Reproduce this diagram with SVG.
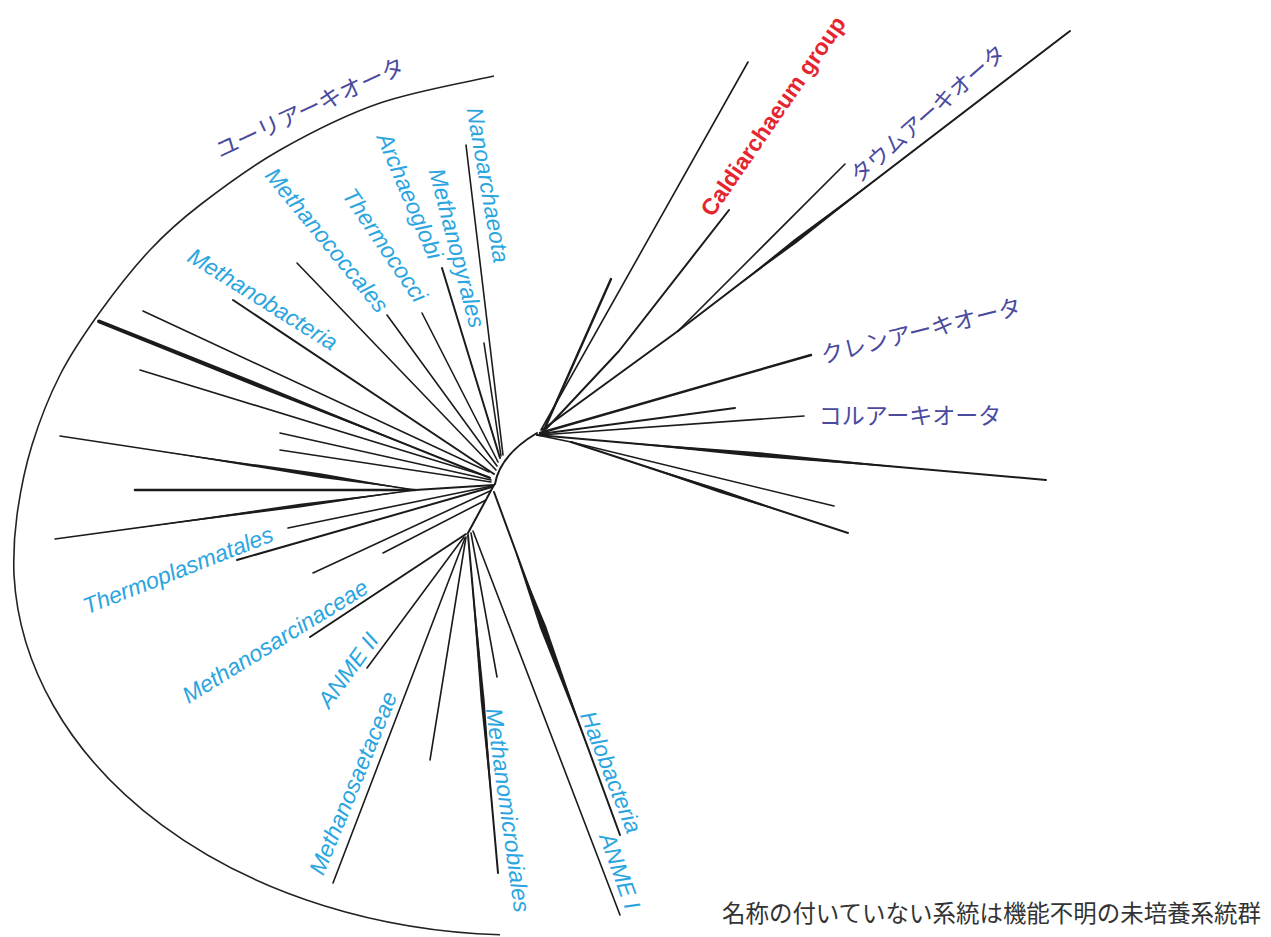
<svg xmlns="http://www.w3.org/2000/svg" width="1271" height="937" viewBox="0 0 1271 937">
<style>
.br{stroke:#1b1b1b;stroke-width:1.6;fill:none;stroke-linecap:round;stroke-linejoin:round}
.th{stroke-width:2.4}
.md{stroke-width:2}
.wd{fill:#1b1b1b;stroke:none}
.arc{stroke:#222;stroke-width:1.6;fill:none}
.lb{font-family:"Liberation Sans",Arial,sans-serif;font-style:italic;font-size:23px;fill:#2aa5e0;text-anchor:middle}
.jp{font-family:"Noto Sans CJK JP",sans-serif;font-size:23px;fill:#4a4a9e;text-anchor:middle}
.cg{font-family:"Liberation Sans",Arial,sans-serif;font-weight:bold;font-size:23px;fill:#e52530;text-anchor:middle}
.note{font-family:"Noto Sans CJK JP",sans-serif;font-size:23.5px;fill:#333}
</style>
<rect width="1271" height="937" fill="#fff"/>

<g id="euryarchaeota-arc">
<path class="arc" d="M494,76 C475,80.5 415.7,90.7 380,103 C344.3,115.3 310,133 280,150 C250,167 221.7,188.3 200,205 C178.3,221.7 166.7,232.2 150,250 C133.3,267.8 115,291.2 100,312 C85,332.8 71.3,352.8 60,375 C48.7,397.2 39.2,421.7 32,445 C24.8,468.3 20,493.3 17,515 C14,536.7 13.2,554.2 14,575 A507,375 0 0 0 500,934.7"/>
</g>

<g id="connectors">
<!-- central links -->
<path class="br md" d="M495,484 Q500,455 537,433"/>
<line class="br md" x1="494" y1="485" x2="468" y2="533"/>
<line class="br md" x1="415" y1="490" x2="494" y2="485"/>
<line class="br" x1="537" y1="435" x2="571" y2="442"/>
<!-- upper euryarchaeota -->
<line class="br" x1="466" y1="145" x2="503" y2="455"/>
<line class="br" x1="484" y1="343" x2="501" y2="456"/>
<line class="br md" x1="442" y1="268" x2="500" y2="458"/>
<line class="br" x1="422" y1="313" x2="498" y2="462"/>
<line class="br" x1="387" y1="315" x2="497" y2="466"/>
<line class="br" x1="297" y1="263" x2="496" y2="470"/>
<line class="br md" x1="233" y1="300" x2="494" y2="474"/>
<!-- left -->
<line class="br md" x1="98" y1="321" x2="490" y2="478"/>
<polygon class="wd" points="97.3,322.7 259.2,388 450,462 260.8,383.9 98.7,319.3"/>
<line class="br" x1="143" y1="311" x2="489" y2="472"/>
<line class="br" x1="140" y1="370" x2="489" y2="477"/>
<line class="br" x1="60" y1="436" x2="415" y2="490"/>
<polygon class="wd" points="150,449.7 319.7,477.7 415,490 320.3,473.3"/>
<line class="br" x1="280" y1="433" x2="491" y2="480"/>
<line class="br" x1="280" y1="450" x2="491" y2="482"/>
<line class="br" style="stroke-width:2.6" x1="135" y1="490" x2="415" y2="490"/>
<line class="br" x1="55" y1="539" x2="415" y2="490"/>
<polygon class="wd" points="120,530.2 300.2,507.4 415,490 299.8,503.8"/>
<line class="br" x1="288" y1="528" x2="492" y2="486"/>
<line class="br md" x1="237" y1="560" x2="492" y2="487"/>
<line class="br" x1="313" y1="573" x2="490" y2="491"/>
<line class="br" x1="383" y1="553" x2="486" y2="500"/>
<!-- lower -->
<line class="br md" x1="310" y1="637" x2="466" y2="534"/>
<line class="br" x1="367" y1="668" x2="464" y2="537"/>
<line class="br" x1="333" y1="883" x2="465" y2="538"/>
<line class="br" x1="430" y1="760" x2="466" y2="537"/>
<line class="br md" x1="498" y1="873" x2="468" y2="535"/>
<polygon class="wd" points="469.3,550 480.6,700.2 494.2,830 484.6,699.8"/>
<line class="br" x1="497" y1="677" x2="471" y2="533"/>
<line class="br" x1="620" y1="915" x2="473" y2="531"/>
<line class="br md" x1="620" y1="835" x2="494" y2="492"/>
<polygon class="wd" points="515.2,552 539.9,628.1 590.4,755 546.1,625.9"/>
<!-- right upper -->
<line class="br" x1="748" y1="62" x2="541" y2="430"/>
<line class="br th" x1="611" y1="279" x2="544" y2="430"/>
<polyline class="br md" points="729,210 619,351 546,429"/>
<line class="br md" x1="542" y1="430" x2="678" y2="331"/>
<line class="br" x1="678" y1="331" x2="845" y2="164"/>
<line class="br md" x1="678" y1="331" x2="1070" y2="31"/>
<polygon class="wd" points="725,295 796.9,242.7 893.6,166 794.3,239.3"/>
<!-- right lower -->
<line class="br th" x1="811" y1="355" x2="540" y2="433"/>
<line class="br md" x1="735" y1="408" x2="540" y2="434"/>
<line class="br" x1="804" y1="416" x2="540" y2="435"/>
<line class="br md" x1="537" y1="435" x2="1046" y2="480"/>
<polygon class="wd" points="600,440.6 760,452.2 930,469.7 760,457.2"/>
<line class="br" x1="571" y1="442" x2="834" y2="506"/>
<line class="br md" x1="571" y1="442" x2="848" y2="533"/>
<polygon class="wd" points="610,454.8 719.4,492.7 810,520.5 720.6,489.3"/>
</g>

<g id="label-euryarchaeota"><text class="jp" transform="translate(310,108) rotate(-25)" dy="0.35em">ユーリアーキオータ</text></g>
<g id="label-nanoarchaeota"><text class="lb" transform="translate(488,185) rotate(80)" dy="0.35em">Nanoarchaeota</text></g>
<g id="label-methanopyrales"><text class="lb" transform="translate(457,248) rotate(75.4)" dy="0.35em">Methanopyrales</text></g>
<g id="label-archaeoglobi"><text class="lb" transform="translate(410,196) rotate(67)" dy="0.35em">Archaeoglobi</text></g>
<g id="label-thermococci"><text class="lb" transform="translate(385,245) rotate(56)" dy="0.35em">Thermococci</text></g>
<g id="label-methanococcales"><text class="lb" transform="translate(327,240) rotate(50.6)" dy="0.35em">Methanococcales</text></g>
<g id="label-methanobacteria"><text class="lb" transform="translate(263,299) rotate(32)" dy="0.35em">Methanobacteria</text></g>
<g id="label-thermoplasmatales"><text class="lb" transform="translate(178,570) rotate(-21.5)" dy="0.35em">Thermoplasmatales</text></g>
<g id="label-methanosarcinaceae"><text class="lb" transform="translate(275,641) rotate(-31.7)" dy="0.35em">Methanosarcinaceae</text></g>
<g id="label-anme2"><text class="lb" transform="translate(348,670) rotate(-54)" dy="0.35em">ANME II</text></g>
<g id="label-methanosaetaceae"><text class="lb" transform="translate(353,783) rotate(-67.6)" dy="0.35em">Methanosaetaceae</text></g>
<g id="label-methanomicrobiales"><text class="lb" transform="translate(508,810) rotate(82)" dy="0.35em">Methanomicrobiales</text></g>
<g id="label-halobacteria"><text class="lb" transform="translate(611,772) rotate(68.3)" dy="0.35em">Halobacteria</text></g>
<g id="label-anme1"><text class="lb" transform="translate(620,871) rotate(70.3)" dy="0.35em">ANME I</text></g>
<g id="label-caldiarchaeum"><text class="cg" transform="translate(773,116) rotate(-55.4)" dy="0.35em">Caldiarchaeum group</text></g>
<g id="label-thaumarchaeota"><text class="jp" style="font-size:22px" transform="translate(928,114) rotate(-41)" dy="0.35em">タウムアーキオータ</text></g>
<g id="label-crenarchaeota"><text class="jp" transform="translate(921,331) rotate(-14)" dy="0.35em">クレンアーキオータ</text></g>
<g id="label-korarchaeota"><text class="jp" transform="translate(910,416)" dy="0.35em">コルアーキオータ</text></g>
<g id="note"><text class="note" x="722" y="922" textLength="539" lengthAdjust="spacingAndGlyphs">名称の付いていない系統は機能不明の未培養系統群</text></g>
</svg>
